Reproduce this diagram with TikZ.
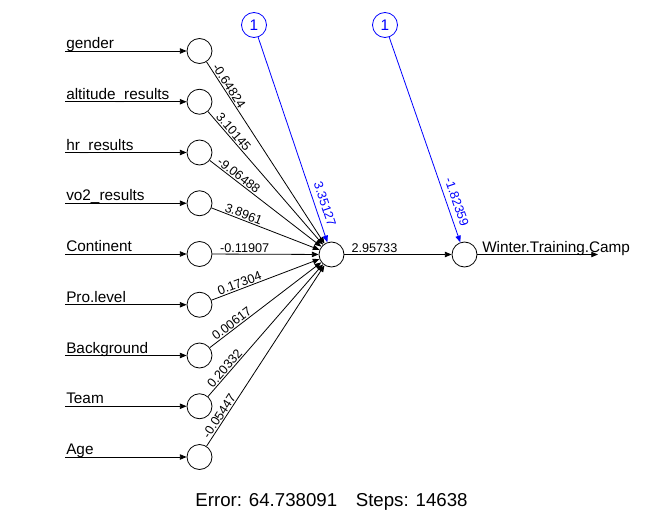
\documentclass[tikz,border=0pt]{standalone}
\usepackage{fontspec}
\setmainfont{Liberation Sans}
\usetikzlibrary{arrows.meta}

\tikzset{
  neuron/.style={circle, draw, line width=0.6pt, inner sep=0pt, minimum size=18.75pt},
  biasnode/.style={neuron, draw=blue, text=blue, font=\fontsize{11.5}{13}\selectfont},
  wire/.style={-{Triangle[length=5pt,width=4pt]}, line width=0.6pt},
  weight/.style={sloped, above, inner sep=0.8pt, font=\fontsize{9.5}{11}\selectfont},
  biasweight/.style={weight, above=3pt},
  inlabel/.style={anchor=base west, inner sep=0pt, font=\fontsize{11.5}{13}\selectfont}
}

\begin{document}
\begin{tikzpicture}[x=0.75pt, y=-0.75pt]
  \useasboundingbox (0,0) rectangle (664,510);

  % input layer
  \node[neuron] (gender) at (199.5,51) {};
  \node[neuron] (alt) at (199.5,101.75) {};
  \node[neuron] (hr) at (199.5,152.5) {};
  \node[neuron] (vo2) at (199.5,203.25) {};
  \node[neuron] (cont) at (199.5,254) {};
  \node[neuron] (pro) at (199.5,304.75) {};
  \node[neuron] (back) at (199.5,355.5) {};
  \node[neuron] (team) at (199.5,406.25) {};
  \node[neuron] (age) at (199.5,457) {};

  % hidden, output and bias
  \node[neuron] (hidden) at (331.5,254.5) {};
  \node[neuron] (out) at (464.5,254.5) {};
  \node[biasnode] (bias1) at (254,25) {1};
  \node[biasnode] (bias2) at (385,25) {1};

  % input names
  \node[inlabel] (tgender) at (66,48.5) {gender};
  \node[inlabel] (talt) at (66,99.25) {altitude\_results};
  \node[inlabel] (thr) at (66,150) {hr\_results};
  \node[inlabel] (tvo2) at (66,200.75) {vo2\_results};
  \node[inlabel] (tcont) at (66,251.5) {Continent};
  \node[inlabel] (tpro) at (66,302.25) {Pro.level};
  \node[inlabel] (tback) at (66,353) {Background};
  \node[inlabel] (tteam) at (66,403.75) {Team};
  \node[inlabel] (tage) at (66,454.5) {Age};
  \node[inlabel] (tout) at (482,252) {Winter.Training.Camp};

  \coordinate (sgender) at (65,51);
  \coordinate (salt) at (65,101.75);
  \coordinate (shr) at (65,152.5);
  \coordinate (svo2) at (65,203.25);
  \coordinate (scont) at (65,254);
  \coordinate (spro) at (65,304.75);
  \coordinate (sback) at (65,355.5);
  \coordinate (steam) at (65,406.25);
  \coordinate (sage) at (65,457);
  \coordinate (eout) at (598,254.5);

  \draw[wire] (sgender) -- (gender);
  \draw[wire] (salt) -- (alt);
  \draw[wire] (shr) -- (hr);
  \draw[wire] (svo2) -- (vo2);
  \draw[wire] (scont) -- (cont);
  \draw[wire] (spro) -- (pro);
  \draw[wire] (sback) -- (back);
  \draw[wire] (steam) -- (team);
  \draw[wire] (sage) -- (age);

  % weights into the hidden neuron
  \draw[wire] (gender) -- node[weight, pos=0.149] {-0.64824} (hidden);
  \draw[wire] (alt) -- node[weight, pos=0.184] {3.10145} (hidden);
  \draw[wire] (hr) -- node[weight, pos=0.229] {-9.06488} (hidden);
  \draw[wire] (vo2) -- node[weight, pos=0.279] {3.8961} (hidden);
  \draw[wire] (cont) -- node[weight, pos=0.304] {-0.11907} (hidden);
  \draw[wire] (pro) -- node[weight, pos=0.279] {0.17304} (hidden);
  \draw[wire] (back) -- node[weight, pos=0.229] {0.00617} (hidden);
  \draw[wire] (team) -- node[weight, pos=0.184] {0.20332} (hidden);
  \draw[wire] (age) -- node[weight, pos=0.149] {-0.05447} (hidden);
  \draw[wire, blue] (bias1) -- node[biasweight, pos=0.83] {3.35127} (hidden);

  % output
  \draw[wire] (hidden) -- node[weight, pos=0.28] {2.95733} (out);
  \draw[wire, blue] (bias2) -- node[biasweight, pos=0.82] {-1.82359} (out);
  \draw[wire] (out) -- (eout);

  \node[anchor=base, inner sep=0pt, font=\fontsize{14}{16}\selectfont] (err) at (331.5,506) {Error: 64.738091\quad Steps: 14638};
\end{tikzpicture}
\end{document}
